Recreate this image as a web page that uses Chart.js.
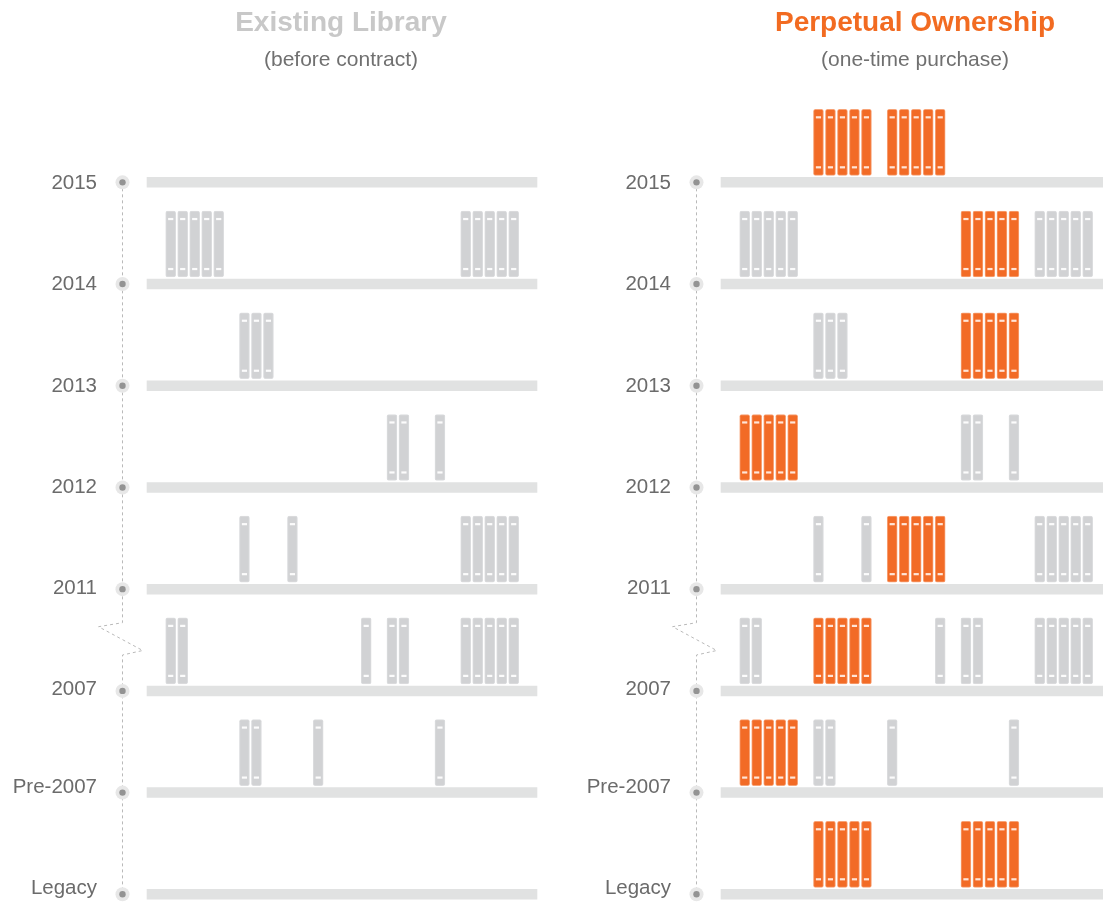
<!DOCTYPE html>
<html><head><meta charset="utf-8">
<script src="https://cdn.jsdelivr.net/npm/chart.js@4.4.1/dist/chart.umd.min.js"></script>
<style>
html,body{margin:0;padding:0;background:#fff;overflow:hidden;width:1103px;height:902px;position:relative}
canvas{position:absolute;top:0}
#left{left:0}
#right{left:574px}
</style></head><body>
<canvas id="left" width="682" height="902"></canvas>
<canvas id="right" width="682" height="902"></canvas>
<script>
// ---- DATA ----
// Shelf rows, bottom (index 0) to top
const ROW_LABELS = ['Legacy', 'Pre-2007', '2007', '2011', '2012', '2013', '2014', '2015'];

// Books already owned (grey), by shelf; slot index 0..24 = group*5 + position
const EXISTING_LEGACY  = [];
const EXISTING_PRE2007 = [5, 6, 10, 19];
const EXISTING_2007    = [0, 1, 14, 15, 16, 20, 21, 22, 23, 24];
const EXISTING_2011    = [5, 9, 20, 21, 22, 23, 24];
const EXISTING_2012    = [15, 16, 19];
const EXISTING_2013    = [5, 6, 7];
const EXISTING_2014    = [0, 1, 2, 3, 4, 20, 21, 22, 23, 24];
const EXISTING_2015    = [];

// Books added by one-time purchase (orange), by shelf
const PURCHASED_LEGACY  = [5, 6, 7, 8, 9, 15, 16, 17, 18, 19];
const PURCHASED_PRE2007 = [0, 1, 2, 3, 4];
const PURCHASED_2007    = [5, 6, 7, 8, 9];
const PURCHASED_2011    = [10, 11, 12, 13, 14];
const PURCHASED_2012    = [0, 1, 2, 3, 4];
const PURCHASED_2013    = [15, 16, 17, 18, 19];
const PURCHASED_2014    = [15, 16, 17, 18, 19];
const PURCHASED_2015    = [5, 6, 7, 8, 9, 10, 11, 12, 13, 14];

const EXISTING_BY_ROW = [EXISTING_LEGACY, EXISTING_PRE2007, EXISTING_2007, EXISTING_2011,
                         EXISTING_2012, EXISTING_2013, EXISTING_2014, EXISTING_2015];
const PURCHASED_BY_ROW = [PURCHASED_LEGACY, PURCHASED_PRE2007, PURCHASED_2007, PURCHASED_2011,
                          PURCHASED_2012, PURCHASED_2013, PURCHASED_2014, PURCHASED_2015];

// ---- GEOMETRY (scale units: x = book slots, y = shelf rows) ----
const SLOT_PX = 12;            // one book slot
const GROUP_STRIDE = 73.75 / SLOT_PX;
const slotX = k => Math.floor(k / 5) * GROUP_STRIDE + (k % 5);
const ROW_PX = 101.71;         // one shelf row
const SLOT0_PX = 170.7;        // page x of slot 0 centre
const ROW0_PX = 894.3;         // page y of bottom shelf centre
const SHELF_X0 = (146.7 - SLOT0_PX) / SLOT_PX, SHELF_X1 = (537.3 - SLOT0_PX) / SLOT_PX;
const SPINE_X = (122.5 - SLOT0_PX) / SLOT_PX;
const BOOK_BOTTOM = 7 / ROW_PX, BOOK_TOP = 73 / ROW_PX, DASH_IN = 8 / ROW_PX;
const LABEL_SHIFT = [6, 5, 1.3, 0.6, 0.2, -0.5, -0.3, -1];  // px, label nudge upward
const FONT = "'Liberation Sans', Arial, sans-serif";

function bookBars(byRow) {
  const out = [];
  byRow.forEach((slots, r) => slots.forEach(k => out.push({x: slotX(k), y: [r + BOOK_BOTTOM, r + BOOK_TOP]})));
  return out;
}
function bookDashes(byRow) {
  const out = [];
  byRow.forEach((slots, r) => slots.forEach(k => {
    out.push({x: slotX(k), y: r + BOOK_TOP - DASH_IN});
    out.push({x: slotX(k), y: r + BOOK_BOTTOM + DASH_IN});
  }));
  return out;
}
const py = p => (ROW0_PX - p) / ROW_PX;   // page y -> row units
const px = p => (p - SLOT0_PX) / SLOT_PX; // page x -> slot units

function makeChart(id, title, titleColor, subtitle, purchased) {
  const rows = ROW_LABELS.map((_, i) => i);
  const datasets = [];
  // timeline spine with break marker between 2011 and 2007
  datasets.push({
    type: 'line', order: 9, clip: false,
    data: [
      {x: SPINE_X, y: 7}, {x: SPINE_X, y: 3},
      {x: SPINE_X, y: py(622.7)},
      {x: px(98.5), y: py(626.7)},
      {x: px(142.7), y: py(650.5)},
      {x: SPINE_X, y: py(655)},
      {x: SPINE_X, y: 0}
    ],
    borderColor: '#b9b9b9', borderWidth: 1, borderDash: [3, 3],
    pointRadius: 0, tension: 0
  });
  // shelves
  rows.forEach(r => datasets.push({
    type: 'line', order: 8, clip: false,
    data: [{x: SHELF_X0, y: r}, {x: SHELF_X1, y: r}],
    borderColor: '#e1e2e2', borderWidth: 10.5, borderCapStyle: 'butt',
    pointRadius: 0
  }));
  // timeline dots
  datasets.push({
    type: 'scatter', order: 7, clip: false,
    data: rows.map(r => ({x: SPINE_X, y: r})),
    pointRadius: 7, backgroundColor: '#e7e7e7', borderWidth: 0
  });
  datasets.push({
    type: 'scatter', order: 6, clip: false,
    data: rows.map(r => ({x: SPINE_X, y: r})),
    pointRadius: 3.2, backgroundColor: '#939393', borderWidth: 0
  });
  // books
  datasets.push({
    type: 'bar', order: 4, grouped: false, clip: false,
    data: bookBars(EXISTING_BY_ROW),
    backgroundColor: '#d1d2d4', borderColor: '#dcdddf', borderWidth: 1,
    borderRadius: 2, borderSkipped: false, barThickness: 10
  });
  datasets.push({
    type: 'scatter', order: 3, clip: false,
    data: bookDashes(EXISTING_BY_ROW),
    pointStyle: 'line', pointRadius: 2.6, borderColor: 'rgba(255,255,255,0.92)', borderWidth: 2.2
  });
  if (purchased) {
    datasets.push({
      type: 'bar', order: 2, grouped: false, clip: false,
      data: bookBars(PURCHASED_BY_ROW),
      backgroundColor: '#f26b26', borderColor: '#f7a377', borderWidth: 1,
      borderRadius: 2, borderSkipped: false, barThickness: 10
    });
    datasets.push({
      type: 'scatter', order: 1, clip: false,
      data: bookDashes(PURCHASED_BY_ROW),
      pointStyle: 'line', pointRadius: 2.6, borderColor: 'rgba(255,236,226,0.95)', borderWidth: 2.2
    });
  }
  const chart = new Chart(document.getElementById(id), {
    type: 'bar',
    data: {datasets},
    options: {
      responsive: false, animation: false, events: [],
      layout: {padding: 0},
      plugins: {
        legend: {display: false}, tooltip: {enabled: false},
        title: {display: true, text: title, color: titleColor,
                font: {family: FONT, size: 28, weight: 'bold', lineHeight: 1.2},
                padding: {top: 6, bottom: 0}},
        subtitle: {display: true, text: subtitle, color: '#707070',
                   font: {family: FONT, size: 21, lineHeight: 1.2},
                   padding: {top: 8, bottom: 0}}
      },
      scales: {
        x: {type: 'linear', min: -6, max: 42, offset: false, display: false},
        y: {
          type: 'linear', min: -0.1, max: 8.1,
          grid: {display: false, drawTicks: false}, border: {display: false},
          afterBuildTicks: s => { s.ticks = rows.map(v => ({value: v + LABEL_SHIFT[v] / ROW_PX})); },
          afterFit: s => { s.width = 100; s.paddingTop = 0; s.paddingBottom = 0; },
          ticks: {
            autoSkip: false, padding: 3,
            color: '#6b6b6b', font: {family: FONT, size: 20.5},
            callback: v => ROW_LABELS[Math.round(v)]
          }
        }
      }
    }
  });
  // align scale ranges to the laid-out chart area
  const a = chart.chartArea;
  chart.options.scales.x.min = px(a.left);
  chart.options.scales.x.max = px(a.right);
  chart.options.scales.y.max = py(a.top);
  chart.options.scales.y.min = py(a.bottom);
  chart.update();
  return chart;
}

makeChart('left', 'Existing Library', '#c8c8c8', '(before contract)', false);
makeChart('right', 'Perpetual Ownership', '#f26b21', '(one-time purchase)', true);
</script>
</body></html>
